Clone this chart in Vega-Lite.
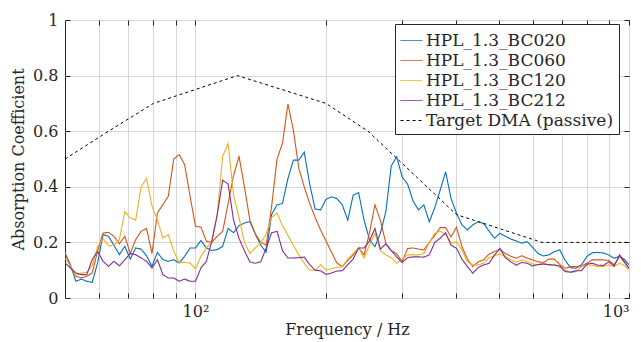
{
"$schema": "https://vega.github.io/schema/vega-lite/v6.json",
"width": 564, "height": 278, "autosize": "none",
"padding": {"left": 65, "top": 20, "right": 12, "bottom": 44},
"background": "white",
"config": {"view": {"stroke": "#262626", "strokeWidth": 1}, "font": "DejaVu Serif"},
"data": {"values": [
{"s":"BC020","f":50,"a":0.16},{"s":"BC020","f":51.47,"a":0.12},{"s":"BC020","f":52.97,"a":0.06},{"s":"BC020","f":54.53,"a":0.068},{"s":"BC020","f":56.12,"a":0.06},{"s":"BC020","f":57.77,"a":0.056},{"s":"BC020","f":59.46,"a":0.126},{"s":"BC020","f":61.2,"a":0.228},{"s":"BC020","f":63,"a":0.222},{"s":"BC020","f":64.84,"a":0.19},{"s":"BC020","f":66.74,"a":0.156},{"s":"BC020","f":68.7,"a":0.186},{"s":"BC020","f":70.71,"a":0.14},{"s":"BC020","f":72.78,"a":0.18},{"s":"BC020","f":74.92,"a":0.176},{"s":"BC020","f":77.11,"a":0.152},{"s":"BC020","f":79.37,"a":0.114},{"s":"BC020","f":81.7,"a":0.164},{"s":"BC020","f":84.09,"a":0.138},{"s":"BC020","f":86.55,"a":0.132},{"s":"BC020","f":89.09,"a":0.138},{"s":"BC020","f":91.7,"a":0.126},{"s":"BC020","f":94.39,"a":0.15},{"s":"BC020","f":97.15,"a":0.18},{"s":"BC020","f":100,"a":0.18},{"s":"BC020","f":102.93,"a":0.207},{"s":"BC020","f":105.95,"a":0.18},{"s":"BC020","f":109.05,"a":0.171},{"s":"BC020","f":112.25,"a":0.174},{"s":"BC020","f":115.54,"a":0.186},{"s":"BC020","f":118.92,"a":0.25},{"s":"BC020","f":122.41,"a":0.235},{"s":"BC020","f":125.99,"a":0.26},{"s":"BC020","f":129.68,"a":0.27},{"s":"BC020","f":133.48,"a":0.275},{"s":"BC020","f":137.39,"a":0.23},{"s":"BC020","f":141.42,"a":0.19},{"s":"BC020","f":145.56,"a":0.165},{"s":"BC020","f":149.83,"a":0.3},{"s":"BC020","f":154.22,"a":0.335},{"s":"BC020","f":158.74,"a":0.34},{"s":"BC020","f":163.4,"a":0.43},{"s":"BC020","f":168.18,"a":0.496},{"s":"BC020","f":173.11,"a":0.496},{"s":"BC020","f":178.18,"a":0.525},{"s":"BC020","f":183.4,"a":0.41},{"s":"BC020","f":188.78,"a":0.32},{"s":"BC020","f":194.31,"a":0.317},{"s":"BC020","f":200,"a":0.355},{"s":"BC020","f":205.86,"a":0.364},{"s":"BC020","f":211.89,"a":0.358},{"s":"BC020","f":218.1,"a":0.335},{"s":"BC020","f":224.49,"a":0.28},{"s":"BC020","f":231.07,"a":0.37},{"s":"BC020","f":237.84,"a":0.379},{"s":"BC020","f":244.82,"a":0.28},{"s":"BC020","f":251.98,"a":0.21},{"s":"BC020","f":259.37,"a":0.185},{"s":"BC020","f":266.97,"a":0.233},{"s":"BC020","f":274.79,"a":0.31},{"s":"BC020","f":282.84,"a":0.475},{"s":"BC020","f":291.13,"a":0.508},{"s":"BC020","f":299.66,"a":0.436},{"s":"BC020","f":308.44,"a":0.41},{"s":"BC020","f":317.48,"a":0.35},{"s":"BC020","f":326.79,"a":0.317},{"s":"BC020","f":336.36,"a":0.335},{"s":"BC020","f":346.22,"a":0.274},{"s":"BC020","f":356.36,"a":0.325},{"s":"BC020","f":366.8,"a":0.388},{"s":"BC020","f":377.55,"a":0.454},{"s":"BC020","f":388.61,"a":0.358},{"s":"BC020","f":400,"a":0.305},{"s":"BC020","f":411.72,"a":0.263},{"s":"BC020","f":423.78,"a":0.245},{"s":"BC020","f":436.19,"a":0.263},{"s":"BC020","f":448.98,"a":0.274},{"s":"BC020","f":462.14,"a":0.268},{"s":"BC020","f":475.68,"a":0.24},{"s":"BC020","f":489.63,"a":0.215},{"s":"BC020","f":503.97,"a":0.233},{"s":"BC020","f":518.74,"a":0.222},{"s":"BC020","f":533.94,"a":0.212},{"s":"BC020","f":549.58,"a":0.205},{"s":"BC020","f":565.69,"a":0.197},{"s":"BC020","f":582.26,"a":0.203},{"s":"BC020","f":599.32,"a":0.182},{"s":"BC020","f":616.88,"a":0.16},{"s":"BC020","f":634.96,"a":0.151},{"s":"BC020","f":653.56,"a":0.155},{"s":"BC020","f":672.71,"a":0.167},{"s":"BC020","f":692.44,"a":0.173},{"s":"BC020","f":712.72,"a":0.135},{"s":"BC020","f":733.6,"a":0.109},{"s":"BC020","f":755.08,"a":0.107},{"s":"BC020","f":777.22,"a":0.12},{"s":"BC020","f":800,"a":0.15},{"s":"BC020","f":823.44,"a":0.163},{"s":"BC020","f":847.56,"a":0.164},{"s":"BC020","f":872.4,"a":0.162},{"s":"BC020","f":897.96,"a":0.155},{"s":"BC020","f":924.27,"a":0.143},{"s":"BC020","f":951.35,"a":0.15},{"s":"BC020","f":979.22,"a":0.137},{"s":"BC020","f":1000,"a":0.119},
{"s":"BC060","f":50,"a":0.165},{"s":"BC060","f":51.47,"a":0.11},{"s":"BC060","f":52.97,"a":0.078},{"s":"BC060","f":54.53,"a":0.072},{"s":"BC060","f":56.12,"a":0.078},{"s":"BC060","f":57.77,"a":0.09},{"s":"BC060","f":59.46,"a":0.168},{"s":"BC060","f":61.2,"a":0.234},{"s":"BC060","f":63,"a":0.236},{"s":"BC060","f":64.84,"a":0.222},{"s":"BC060","f":66.74,"a":0.195},{"s":"BC060","f":68.7,"a":0.222},{"s":"BC060","f":70.71,"a":0.16},{"s":"BC060","f":72.78,"a":0.21},{"s":"BC060","f":74.92,"a":0.24},{"s":"BC060","f":77.11,"a":0.25},{"s":"BC060","f":79.37,"a":0.16},{"s":"BC060","f":81.7,"a":0.306},{"s":"BC060","f":84.09,"a":0.336},{"s":"BC060","f":86.55,"a":0.366},{"s":"BC060","f":89.09,"a":0.5},{"s":"BC060","f":91.7,"a":0.516},{"s":"BC060","f":94.39,"a":0.48},{"s":"BC060","f":97.15,"a":0.366},{"s":"BC060","f":100,"a":0.258},{"s":"BC060","f":102.93,"a":0.255},{"s":"BC060","f":105.95,"a":0.204},{"s":"BC060","f":109.05,"a":0.2},{"s":"BC060","f":112.25,"a":0.222},{"s":"BC060","f":115.54,"a":0.24},{"s":"BC060","f":118.92,"a":0.34},{"s":"BC060","f":122.41,"a":0.44},{"s":"BC060","f":125.99,"a":0.51},{"s":"BC060","f":129.68,"a":0.4},{"s":"BC060","f":133.48,"a":0.28},{"s":"BC060","f":137.39,"a":0.23},{"s":"BC060","f":141.42,"a":0.2},{"s":"BC060","f":145.56,"a":0.19},{"s":"BC060","f":149.83,"a":0.33},{"s":"BC060","f":154.22,"a":0.5},{"s":"BC060","f":158.74,"a":0.557},{"s":"BC060","f":163.4,"a":0.698},{"s":"BC060","f":168.18,"a":0.604},{"s":"BC060","f":173.11,"a":0.467},{"s":"BC060","f":178.18,"a":0.4},{"s":"BC060","f":183.4,"a":0.34},{"s":"BC060","f":188.78,"a":0.29},{"s":"BC060","f":194.31,"a":0.245},{"s":"BC060","f":200,"a":0.205},{"s":"BC060","f":205.86,"a":0.165},{"s":"BC060","f":211.89,"a":0.126},{"s":"BC060","f":218.1,"a":0.113},{"s":"BC060","f":224.49,"a":0.135},{"s":"BC060","f":231.07,"a":0.155},{"s":"BC060","f":237.84,"a":0.18},{"s":"BC060","f":244.82,"a":0.155},{"s":"BC060","f":251.98,"a":0.235},{"s":"BC060","f":259.37,"a":0.335},{"s":"BC060","f":266.97,"a":0.28},{"s":"BC060","f":274.79,"a":0.197},{"s":"BC060","f":282.84,"a":0.17},{"s":"BC060","f":291.13,"a":0.16},{"s":"BC060","f":299.66,"a":0.13},{"s":"BC060","f":308.44,"a":0.178},{"s":"BC060","f":317.48,"a":0.18},{"s":"BC060","f":326.79,"a":0.176},{"s":"BC060","f":336.36,"a":0.173},{"s":"BC060","f":346.22,"a":0.2},{"s":"BC060","f":356.36,"a":0.225},{"s":"BC060","f":366.8,"a":0.253},{"s":"BC060","f":377.55,"a":0.253},{"s":"BC060","f":388.61,"a":0.22},{"s":"BC060","f":400,"a":0.255},{"s":"BC060","f":411.72,"a":0.185},{"s":"BC060","f":423.78,"a":0.14},{"s":"BC060","f":436.19,"a":0.113},{"s":"BC060","f":448.98,"a":0.13},{"s":"BC060","f":462.14,"a":0.137},{"s":"BC060","f":475.68,"a":0.158},{"s":"BC060","f":489.63,"a":0.167},{"s":"BC060","f":503.97,"a":0.175},{"s":"BC060","f":518.74,"a":0.16},{"s":"BC060","f":533.94,"a":0.15},{"s":"BC060","f":549.58,"a":0.143},{"s":"BC060","f":565.69,"a":0.152},{"s":"BC060","f":582.26,"a":0.143},{"s":"BC060","f":599.32,"a":0.137},{"s":"BC060","f":616.88,"a":0.13},{"s":"BC060","f":634.96,"a":0.128},{"s":"BC060","f":653.56,"a":0.14},{"s":"BC060","f":672.71,"a":0.14},{"s":"BC060","f":692.44,"a":0.12},{"s":"BC060","f":712.72,"a":0.107},{"s":"BC060","f":733.6,"a":0.113},{"s":"BC060","f":755.08,"a":0.113},{"s":"BC060","f":777.22,"a":0.115},{"s":"BC060","f":800,"a":0.125},{"s":"BC060","f":823.44,"a":0.137},{"s":"BC060","f":847.56,"a":0.137},{"s":"BC060","f":872.4,"a":0.137},{"s":"BC060","f":897.96,"a":0.135},{"s":"BC060","f":924.27,"a":0.119},{"s":"BC060","f":951.35,"a":0.15},{"s":"BC060","f":979.22,"a":0.125},{"s":"BC060","f":1000,"a":0.107},
{"s":"BC120","f":50,"a":0.144},{"s":"BC120","f":51.47,"a":0.116},{"s":"BC120","f":52.97,"a":0.08},{"s":"BC120","f":54.53,"a":0.09},{"s":"BC120","f":56.12,"a":0.092},{"s":"BC120","f":57.77,"a":0.116},{"s":"BC120","f":59.46,"a":0.186},{"s":"BC120","f":61.2,"a":0.212},{"s":"BC120","f":63,"a":0.188},{"s":"BC120","f":64.84,"a":0.19},{"s":"BC120","f":66.74,"a":0.21},{"s":"BC120","f":68.7,"a":0.31},{"s":"BC120","f":70.71,"a":0.288},{"s":"BC120","f":72.78,"a":0.28},{"s":"BC120","f":74.92,"a":0.4},{"s":"BC120","f":77.11,"a":0.43},{"s":"BC120","f":79.37,"a":0.33},{"s":"BC120","f":81.7,"a":0.28},{"s":"BC120","f":84.09,"a":0.216},{"s":"BC120","f":86.55,"a":0.228},{"s":"BC120","f":89.09,"a":0.168},{"s":"BC120","f":91.7,"a":0.128},{"s":"BC120","f":94.39,"a":0.128},{"s":"BC120","f":97.15,"a":0.126},{"s":"BC120","f":100,"a":0.105},{"s":"BC120","f":102.93,"a":0.15},{"s":"BC120","f":105.95,"a":0.18},{"s":"BC120","f":109.05,"a":0.204},{"s":"BC120","f":112.25,"a":0.3},{"s":"BC120","f":115.54,"a":0.51},{"s":"BC120","f":118.92,"a":0.555},{"s":"BC120","f":122.41,"a":0.37},{"s":"BC120","f":125.99,"a":0.29},{"s":"BC120","f":129.68,"a":0.2},{"s":"BC120","f":133.48,"a":0.16},{"s":"BC120","f":137.39,"a":0.18},{"s":"BC120","f":141.42,"a":0.2},{"s":"BC120","f":145.56,"a":0.23},{"s":"BC120","f":149.83,"a":0.29},{"s":"BC120","f":154.22,"a":0.305},{"s":"BC120","f":158.74,"a":0.26},{"s":"BC120","f":163.4,"a":0.225},{"s":"BC120","f":168.18,"a":0.19},{"s":"BC120","f":173.11,"a":0.155},{"s":"BC120","f":178.18,"a":0.125},{"s":"BC120","f":183.4,"a":0.1},{"s":"BC120","f":188.78,"a":0.1},{"s":"BC120","f":194.31,"a":0.12},{"s":"BC120","f":200,"a":0.1},{"s":"BC120","f":205.86,"a":0.105},{"s":"BC120","f":211.89,"a":0.11},{"s":"BC120","f":218.1,"a":0.113},{"s":"BC120","f":224.49,"a":0.14},{"s":"BC120","f":231.07,"a":0.16},{"s":"BC120","f":237.84,"a":0.18},{"s":"BC120","f":244.82,"a":0.144},{"s":"BC120","f":251.98,"a":0.19},{"s":"BC120","f":259.37,"a":0.233},{"s":"BC120","f":266.97,"a":0.17},{"s":"BC120","f":274.79,"a":0.155},{"s":"BC120","f":282.84,"a":0.145},{"s":"BC120","f":291.13,"a":0.125},{"s":"BC120","f":299.66,"a":0.14},{"s":"BC120","f":308.44,"a":0.155},{"s":"BC120","f":317.48,"a":0.155},{"s":"BC120","f":326.79,"a":0.155},{"s":"BC120","f":336.36,"a":0.16},{"s":"BC120","f":346.22,"a":0.2},{"s":"BC120","f":356.36,"a":0.233},{"s":"BC120","f":366.8,"a":0.24},{"s":"BC120","f":377.55,"a":0.228},{"s":"BC120","f":388.61,"a":0.197},{"s":"BC120","f":400,"a":0.203},{"s":"BC120","f":411.72,"a":0.173},{"s":"BC120","f":423.78,"a":0.13},{"s":"BC120","f":436.19,"a":0.119},{"s":"BC120","f":448.98,"a":0.119},{"s":"BC120","f":462.14,"a":0.125},{"s":"BC120","f":475.68,"a":0.145},{"s":"BC120","f":489.63,"a":0.152},{"s":"BC120","f":503.97,"a":0.158},{"s":"BC120","f":518.74,"a":0.148},{"s":"BC120","f":533.94,"a":0.138},{"s":"BC120","f":549.58,"a":0.128},{"s":"BC120","f":565.69,"a":0.137},{"s":"BC120","f":582.26,"a":0.132},{"s":"BC120","f":599.32,"a":0.122},{"s":"BC120","f":616.88,"a":0.12},{"s":"BC120","f":634.96,"a":0.125},{"s":"BC120","f":653.56,"a":0.118},{"s":"BC120","f":672.71,"a":0.122},{"s":"BC120","f":692.44,"a":0.11},{"s":"BC120","f":712.72,"a":0.1},{"s":"BC120","f":733.6,"a":0.092},{"s":"BC120","f":755.08,"a":0.095},{"s":"BC120","f":777.22,"a":0.113},{"s":"BC120","f":800,"a":0.119},{"s":"BC120","f":823.44,"a":0.118},{"s":"BC120","f":847.56,"a":0.113},{"s":"BC120","f":872.4,"a":0.113},{"s":"BC120","f":897.96,"a":0.119},{"s":"BC120","f":924.27,"a":0.113},{"s":"BC120","f":951.35,"a":0.125},{"s":"BC120","f":979.22,"a":0.115},{"s":"BC120","f":1000,"a":0.1},
{"s":"BC212","f":50,"a":0.126},{"s":"BC212","f":51.47,"a":0.108},{"s":"BC212","f":52.97,"a":0.09},{"s":"BC212","f":54.53,"a":0.084},{"s":"BC212","f":56.12,"a":0.084},{"s":"BC212","f":57.77,"a":0.138},{"s":"BC212","f":59.46,"a":0.168},{"s":"BC212","f":61.2,"a":0.132},{"s":"BC212","f":63,"a":0.114},{"s":"BC212","f":64.84,"a":0.132},{"s":"BC212","f":66.74,"a":0.116},{"s":"BC212","f":68.7,"a":0.138},{"s":"BC212","f":70.71,"a":0.16},{"s":"BC212","f":72.78,"a":0.156},{"s":"BC212","f":74.92,"a":0.144},{"s":"BC212","f":77.11,"a":0.132},{"s":"BC212","f":79.37,"a":0.108},{"s":"BC212","f":81.7,"a":0.138},{"s":"BC212","f":84.09,"a":0.084},{"s":"BC212","f":86.55,"a":0.072},{"s":"BC212","f":89.09,"a":0.072},{"s":"BC212","f":91.7,"a":0.06},{"s":"BC212","f":94.39,"a":0.068},{"s":"BC212","f":97.15,"a":0.06},{"s":"BC212","f":100,"a":0.06},{"s":"BC212","f":102.93,"a":0.108},{"s":"BC212","f":105.95,"a":0.132},{"s":"BC212","f":109.05,"a":0.204},{"s":"BC212","f":112.25,"a":0.3},{"s":"BC212","f":115.54,"a":0.424},{"s":"BC212","f":118.92,"a":0.41},{"s":"BC212","f":122.41,"a":0.28},{"s":"BC212","f":125.99,"a":0.215},{"s":"BC212","f":129.68,"a":0.17},{"s":"BC212","f":133.48,"a":0.13},{"s":"BC212","f":137.39,"a":0.125},{"s":"BC212","f":141.42,"a":0.13},{"s":"BC212","f":145.56,"a":0.18},{"s":"BC212","f":149.83,"a":0.235},{"s":"BC212","f":154.22,"a":0.24},{"s":"BC212","f":158.74,"a":0.17},{"s":"BC212","f":163.4,"a":0.144},{"s":"BC212","f":168.18,"a":0.144},{"s":"BC212","f":173.11,"a":0.145},{"s":"BC212","f":178.18,"a":0.147},{"s":"BC212","f":183.4,"a":0.12},{"s":"BC212","f":188.78,"a":0.1},{"s":"BC212","f":194.31,"a":0.098},{"s":"BC212","f":200,"a":0.085},{"s":"BC212","f":205.86,"a":0.09},{"s":"BC212","f":211.89,"a":0.097},{"s":"BC212","f":218.1,"a":0.098},{"s":"BC212","f":224.49,"a":0.12},{"s":"BC212","f":231.07,"a":0.14},{"s":"BC212","f":237.84,"a":0.18},{"s":"BC212","f":244.82,"a":0.18},{"s":"BC212","f":251.98,"a":0.205},{"s":"BC212","f":259.37,"a":0.25},{"s":"BC212","f":266.97,"a":0.176},{"s":"BC212","f":274.79,"a":0.195},{"s":"BC212","f":282.84,"a":0.17},{"s":"BC212","f":291.13,"a":0.148},{"s":"BC212","f":299.66,"a":0.128},{"s":"BC212","f":308.44,"a":0.145},{"s":"BC212","f":317.48,"a":0.148},{"s":"BC212","f":326.79,"a":0.148},{"s":"BC212","f":336.36,"a":0.147},{"s":"BC212","f":346.22,"a":0.155},{"s":"BC212","f":356.36,"a":0.2},{"s":"BC212","f":366.8,"a":0.215},{"s":"BC212","f":377.55,"a":0.235},{"s":"BC212","f":388.61,"a":0.19},{"s":"BC212","f":400,"a":0.179},{"s":"BC212","f":411.72,"a":0.14},{"s":"BC212","f":423.78,"a":0.113},{"s":"BC212","f":436.19,"a":0.089},{"s":"BC212","f":448.98,"a":0.11},{"s":"BC212","f":462.14,"a":0.119},{"s":"BC212","f":475.68,"a":0.125},{"s":"BC212","f":489.63,"a":0.155},{"s":"BC212","f":503.97,"a":0.178},{"s":"BC212","f":518.74,"a":0.145},{"s":"BC212","f":533.94,"a":0.13},{"s":"BC212","f":549.58,"a":0.118},{"s":"BC212","f":565.69,"a":0.128},{"s":"BC212","f":582.26,"a":0.125},{"s":"BC212","f":599.32,"a":0.115},{"s":"BC212","f":616.88,"a":0.12},{"s":"BC212","f":634.96,"a":0.122},{"s":"BC212","f":653.56,"a":0.12},{"s":"BC212","f":672.71,"a":0.118},{"s":"BC212","f":692.44,"a":0.115},{"s":"BC212","f":712.72,"a":0.095},{"s":"BC212","f":733.6,"a":0.093},{"s":"BC212","f":755.08,"a":0.098},{"s":"BC212","f":777.22,"a":0.098},{"s":"BC212","f":800,"a":0.122},{"s":"BC212","f":823.44,"a":0.125},{"s":"BC212","f":847.56,"a":0.118},{"s":"BC212","f":872.4,"a":0.117},{"s":"BC212","f":897.96,"a":0.13},{"s":"BC212","f":924.27,"a":0.115},{"s":"BC212","f":951.35,"a":0.155},{"s":"BC212","f":979.22,"a":0.128},{"s":"BC212","f":1000,"a":0.107},
{"s":"Target","f":50,"a":0.5},{"s":"Target","f":63,"a":0.6},{"s":"Target","f":80,"a":0.7},{"s":"Target","f":125,"a":0.8},{"s":"Target","f":200,"a":0.7},{"s":"Target","f":250,"a":0.6},{"s":"Target","f":400,"a":0.3},{"s":"Target","f":630,"a":0.2},{"s":"Target","f":1000,"a":0.2}
]},
"layer": [
{
"transform": [{"filter": "datum.s != 'Target'"}],
"mark": {"type": "line", "strokeWidth": 1.1, "clip": true},
"encoding": {
"x": {"field": "f", "type": "quantitative", "scale": {"type": "log", "domain": [50, 1000], "nice": false},
 "axis": {"orient": "bottom", "values": [60,70,80,90,100,200,300,400,500,600,700,800,900,1000],
  "labelExpr": "datum.value == 100 ? '10²' : (datum.value == 1000 ? '10³' : '')",
  "grid": true, "gridColor": "#d6d6d6", "domain": false, "tickSize": -5, "tickColor": "#262626",
  "labelPadding": 10, "labelFontSize": 16, "labelColor": "#262626", "labelFont": "DejaVu Serif",
  "title": "Frequency / Hz", "titleFont": "DejaVu Serif", "titleFontSize": 16, "titleFontWeight": "normal", "titleColor": "#262626", "titlePadding": 2}},
"y": {"field": "a", "type": "quantitative", "scale": {"domain": [0, 1], "nice": false},
 "axis": {"orient": "left", "values": [0,0.2,0.4,0.6,0.8,1], "format": "~g",
  "grid": true, "gridColor": "#d6d6d6", "domain": false, "tickSize": -5, "tickColor": "#262626",
  "labelPadding": 12, "labelFontSize": 16, "labelColor": "#262626", "labelFont": "DejaVu Serif",
  "title": "Absorption Coefficient", "titleFont": "DejaVu Serif", "titleFontSize": 16, "titleFontWeight": "normal", "titleColor": "#262626", "titlePadding": 6}},
"color": {"field": "s", "type": "nominal",
 "scale": {"domain": ["BC020","BC060","BC120","BC212","Target"], "range": ["#0072BD","#D95319","#EDB120","#7E2F8E","#000000"]},
 "legend": {"title": null, "orient": "none", "legendX": 330, "legendY": 4, "symbolType": "stroke", "symbolSize": 480, "symbolStrokeWidth": 1,
  "labelFont": "DejaVu Serif", "labelFontSize": 17, "labelColor": "#262626", "labelOffset": 3, "labelLimit": 400, "rowPadding": 0, "padding": 5,
  "strokeColor": "#262626", "fillColor": "white",
  "labelExpr": "datum.label == 'Target' ? 'Target DMA (passive)' : 'HPL_1.3_' + datum.label"}},
"strokeDash": {"field": "s", "type": "nominal",
 "scale": {"domain": ["BC020","BC060","BC120","BC212","Target"], "range": [[1,0],[1,0],[1,0],[1,0],[3,3]]},
 "legend": {"title": null, "orient": "none", "legendX": 330, "legendY": 4, "symbolType": "stroke", "symbolSize": 480, "symbolStrokeWidth": 1,
  "labelFont": "DejaVu Serif", "labelFontSize": 17, "labelColor": "#262626", "labelOffset": 3, "labelLimit": 400, "rowPadding": 0, "padding": 5,
  "strokeColor": "#262626", "fillColor": "white",
  "labelExpr": "datum.label == 'Target' ? 'Target DMA (passive)' : 'HPL_1.3_' + datum.label"}}
}
},
{
"transform": [{"filter": "datum.s == 'Target'"}],
"mark": {"type": "line", "strokeWidth": 1, "clip": true},
"encoding": {
"x": {"field": "f", "type": "quantitative", "scale": {"type": "log", "domain": [50, 1000], "nice": false},
 "axis": {"orient": "top", "values": [60,70,80,90,100,200,300,400,500,600,700,800,900,1000], "labels": false, "grid": false, "domain": false, "tickSize": -5, "tickColor": "#262626", "title": null}},
"y": {"field": "a", "type": "quantitative", "scale": {"domain": [0, 1], "nice": false},
 "axis": {"orient": "right", "values": [0,0.2,0.4,0.6,0.8,1], "labels": false, "grid": false, "domain": false, "tickSize": -5, "tickColor": "#262626", "title": null}},
"color": {"field": "s", "type": "nominal"},
"strokeDash": {"field": "s", "type": "nominal"}
}
}
],
"resolve": {"axis": {"x": "independent", "y": "independent"}}
}
